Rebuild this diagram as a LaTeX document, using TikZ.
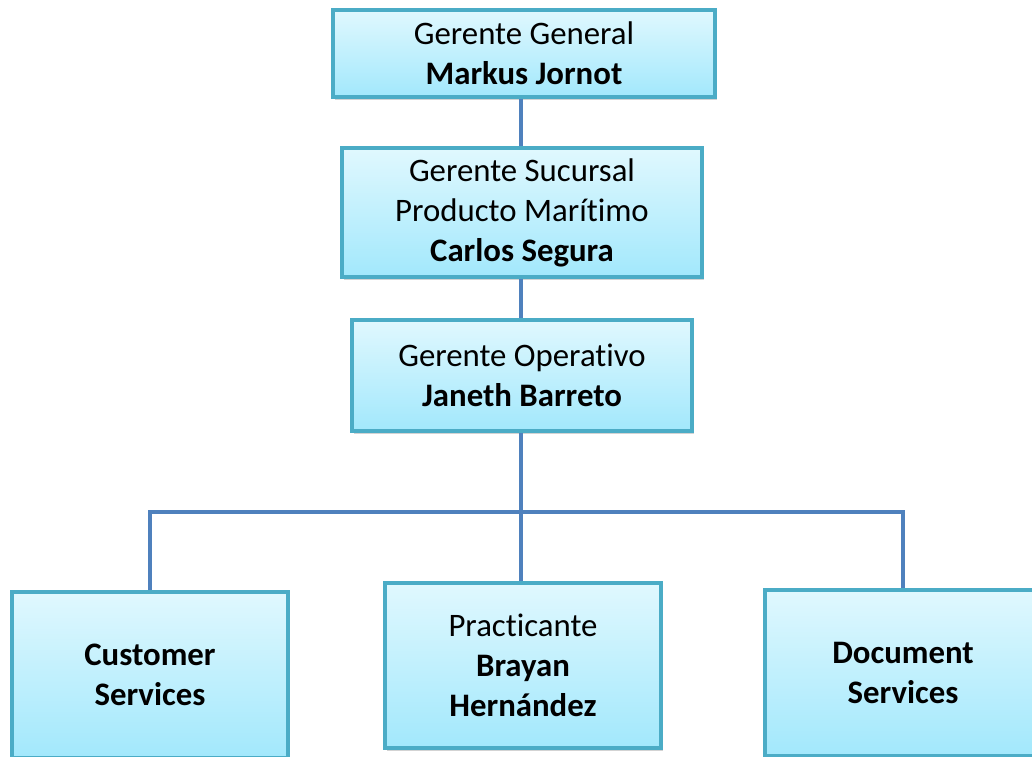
\documentclass[tikz,border=0pt]{standalone}
\usepackage{fontspec}
\setmainfont{Carlito}[Ligatures={NoCommon,NoContextual}]
\usetikzlibrary{shadows}
\definecolor{boxborder}{RGB}{75,172,198}
\definecolor{boxtop}{RGB}{224,248,254}
\definecolor{boxbot}{RGB}{162,232,252}
\definecolor{linkblue}{RGB}{79,129,189}
\tikzset{
  orgbox/.style={draw=boxborder, line width=3.5pt, top color=boxtop, bottom color=boxbot,
    drop shadow={shadow xshift=2pt, shadow yshift=-2.5pt, opacity=0.35},
    align=center, inner sep=0pt, font=\fontsize{32.8}{40}\selectfont},
  link/.style={draw=linkblue, line width=3.5pt}
}
\begin{document}
\begin{tikzpicture}[x=1pt,y=-1pt]
\useasboundingbox (0,0) rectangle (1032,756);
\coordinate (bus) at (521,512);
\node[orgbox, minimum width=382pt, minimum height=87pt] (gg) at (524,53.5) {Gerente General\\\textbf{Markus Jornot}};
\node[orgbox, minimum width=360pt, minimum height=129pt] (gs) at (522,212.5) {Gerente Sucursal\\Producto Marítimo\\\textbf{Carlos Segura}};
\node[orgbox, minimum width=340pt, minimum height=111pt] (go) at (522,375.5) {Gerente Operativo\\\textbf{Janeth Barreto}};
\node[orgbox, minimum width=276pt, minimum height=166pt] (cs) at (150,675) {\textbf{Customer}\\\textbf{Services}};
\node[orgbox, minimum width=276pt, minimum height=165pt] (pr) at (523,665.5) {Practicante\\\textbf{Brayan}\\\textbf{Hernández}};
\node[orgbox, minimum width=276pt, minimum height=166pt] (ds) at (903,673) {\textbf{Document}\\\textbf{Services}};
\draw[link] (gg.south -| bus) -- (gs.north -| bus);
\draw[link] (gs.south -| bus) -- (go.north -| bus);
\draw[link] (go.south -| bus) -- (pr.north -| bus);
\draw[link] (cs.north) |- (bus) -| (ds.north);
\end{tikzpicture}
\end{document}
